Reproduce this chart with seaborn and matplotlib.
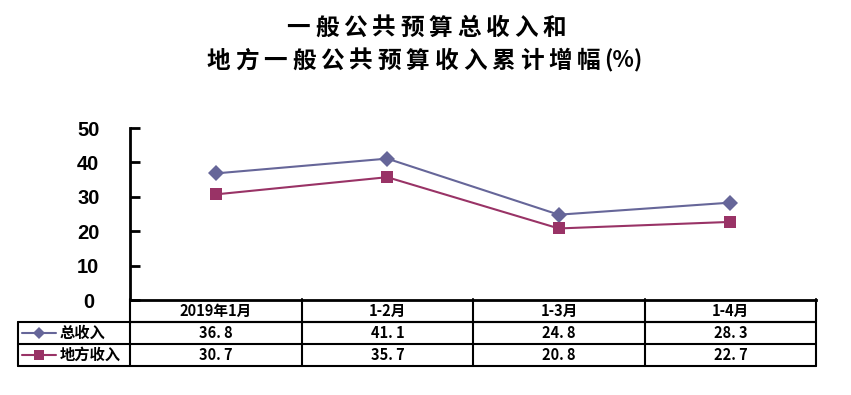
import matplotlib
matplotlib.use("Agg")
import matplotlib.pyplot as plt
import seaborn as sns
import pandas as pd

# data
categories = ["2019年1月", "1-2月", "1-3月", "1-4月"]
series_names = ["总收入", "地方收入"]
total_income = [36.8, 41.1, 24.8, 28.3]
local_income = [30.7, 35.7, 20.8, 22.7]
y_ticks = [0, 10, 20, 30, 40, 50]
title_lines = ["一般公共预算总收入和", "地方一般公共预算收入累计增幅", "(%)"]

colors = {"总收入": "#666699", "地方收入": "#993366"}
markers = {"总收入": "D", "地方收入": "s"}

sns.set_style("white")
plt.rcParams["font.family"] = ["Noto Sans CJK SC", "DejaVu Sans"]

W, H = 851, 395
fig = plt.figure(figsize=(W / 100, H / 100), dpi=100)


def fx(x):
    return x / W


def fy(y):
    return 1 - y / H


# pixel layout of the plot area / table
left, right, top, bottom = 130, 816, 128, 300
col_edges = [130, 302, 473, 645, 816]
row_edges = [299, 322, 344, 366]

ax = fig.add_axes([fx(left), fy(bottom), fx(right - left), (bottom - top) / H])

df = pd.DataFrame({
    "pos": list(range(len(categories))) * 2,
    "value": total_income + local_income,
    "series": [series_names[0]] * len(categories) + [series_names[1]] * len(categories),
})
sns.lineplot(data=df, x="pos", y="value", hue="series", style="series",
             palette=colors, markers=markers, dashes=False, markersize=8,
             markeredgewidth=0, linewidth=1.5, legend=False, ax=ax)

ax.set_xlim(-0.5, len(categories) - 0.5)
ax.set_ylim(0, 50)
ax.set_yticks(y_ticks)
ax.set_xticks([])
ax.set_xlabel("")
ax.set_ylabel("")
for s in ["top", "right"]:
    ax.spines[s].set_visible(False)
for s in ["left", "bottom"]:
    ax.spines[s].set_color("black")
    ax.spines[s].set_linewidth(2)
ax.tick_params(axis="y", left=True, direction="in", length=7, width=2, pad=30,
               labelsize=14.5, colors="black")
for lab in ax.get_yticklabels():
    lab.set_fontfamily("Liberation Sans")
    lab.set_fontweight("bold")
    lab.set_horizontalalignment("center")

# table overlay in pixel coordinates
tab = fig.add_axes([0, 0, 1, 1])
tab.set_xlim(0, W)
tab.set_ylim(H, 0)
tab.axis("off")
tab.patch.set_alpha(0)

lw = 1.5
# header row
tab.plot([col_edges[0], col_edges[-1]], [row_edges[1]] * 2, color="black", lw=lw)
for x in col_edges[1:]:
    tab.plot([x, x], [row_edges[0], row_edges[-1]], color="black", lw=lw)
tab.plot([col_edges[0], col_edges[0]], [row_edges[0], row_edges[-1]], color="black", lw=lw)
# data rows
x0 = 18
for y in row_edges[1:]:
    tab.plot([x0, col_edges[-1]], [y, y], color="black", lw=lw)
tab.plot([x0, x0], [row_edges[1], row_edges[-1]], color="black", lw=lw)

font_small = dict(fontsize=10.5, fontweight="bold", color="black", ha="center", va="center")
for i, cat in enumerate(categories):
    cx = (col_edges[i] + col_edges[i + 1]) / 2
    tab.text(cx, (row_edges[0] + row_edges[1]) / 2, cat, **font_small)

for r, (name, vals) in enumerate(zip(series_names, [total_income, local_income])):
    cy = (row_edges[r + 1] + row_edges[r + 2]) / 2
    tab.plot([22, 56], [cy, cy], color=colors[name], lw=1.5)
    tab.plot([39], [cy], marker=markers[name], color=colors[name],
             markersize=6 if markers[name] == "D" else 7, markeredgewidth=0)
    tab.text(60, cy, name, fontsize=11, fontweight="bold", color="black",
             ha="left", va="center")
    for i, v in enumerate(vals):
        cx = (col_edges[i] + col_edges[i + 1]) / 2
        tab.text(cx, cy, f"{v:.1f}".replace(".", ". "), **font_small)

# title, characters placed on a fixed pitch to mimic the wide spacing
pitch = 28.5
tfont = dict(fontsize=17, fontweight="bold", color="black", ha="center", va="center")
for k, x_start in enumerate([284, 204]):
    line = title_lines[k]
    yy = [28, 61][k]
    for j, ch in enumerate(line):
        tab.text(x_start + pitch * (j + 0.5), yy, ch, **tfont)
    if k == 1:
        tab.text(x_start + pitch * len(line) + 1, yy, title_lines[2],
                 fontsize=16, fontweight="bold", color="black", ha="left", va="center")

fig.savefig("out.png", dpi=100)
